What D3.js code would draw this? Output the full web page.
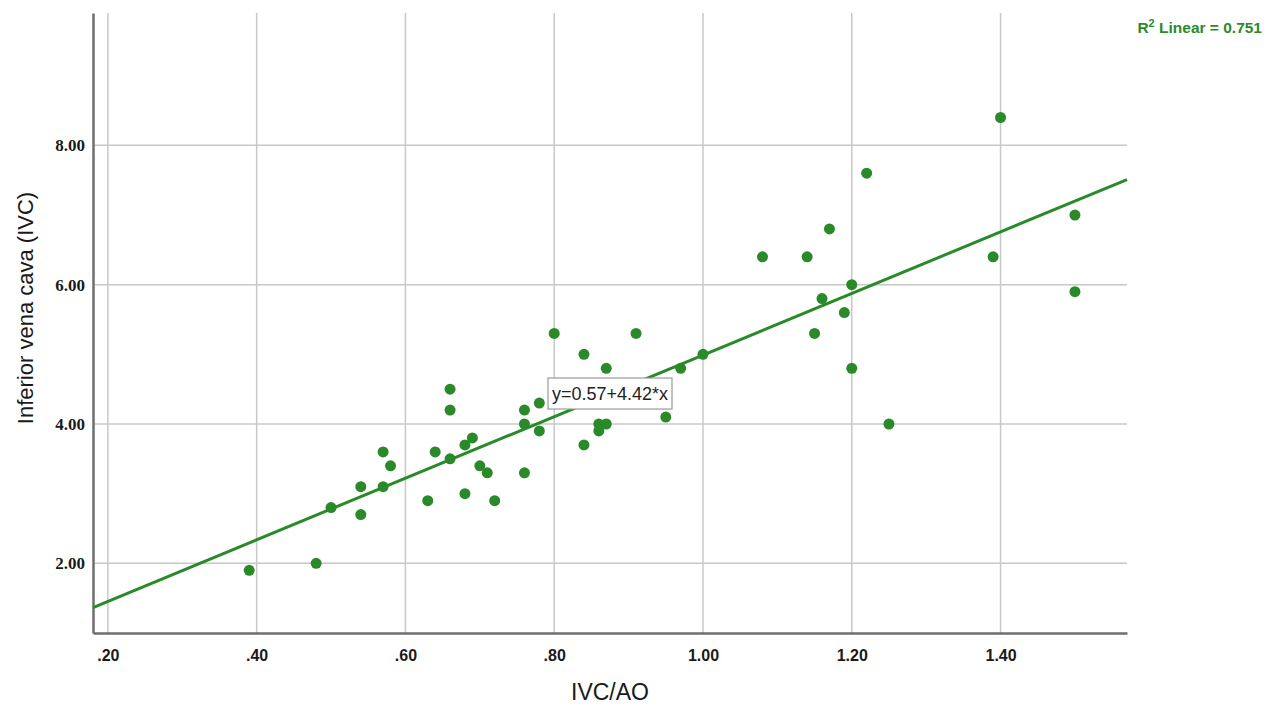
<!DOCTYPE html>
<html>
<head>
<meta charset="utf-8">
<script src="https://cdn.jsdelivr.net/npm/d3@7"></script>
<style>
  body { margin: 0; background: #fff; }
  svg { display: block; font-family: "Liberation Sans", Arial, sans-serif; }
</style>
</head>
<body>
<script>
// IVC vs IVC/AO scatter with linear fit

const ivcAo = [0.39, 0.48, 0.50, 0.54, 0.54, 0.57, 0.57, 0.58, 0.63, 0.64,
               0.66, 0.66, 0.66, 0.68, 0.68, 0.69, 0.70, 0.71, 0.72, 0.76,
               0.76, 0.76, 0.78, 0.78, 0.80, 0.84, 0.84, 0.86, 0.86, 0.87,
               0.87, 0.91, 0.95, 0.97, 1.00, 1.08, 1.14, 1.17, 1.16, 1.15,
               1.19, 1.20, 1.20, 1.22, 1.25, 1.39, 1.40, 1.50, 1.50];
const ivc = [1.9, 2.0, 2.8, 3.1, 2.7, 3.6, 3.1, 3.4, 2.9, 3.6,
             4.5, 4.2, 3.5, 3.7, 3.0, 3.8, 3.4, 3.3, 2.9, 4.2,
             4.0, 3.3, 4.3, 3.9, 5.3, 5.0, 3.7, 4.0, 3.9, 4.8,
             4.0, 5.3, 4.1, 4.8, 5.0, 6.4, 6.4, 6.8, 5.8, 5.3,
             5.6, 6.0, 4.8, 7.6, 4.0, 6.4, 8.4, 7.0, 5.9];

const xTicks = [0.2, 0.4, 0.6, 0.8, 1.0, 1.2, 1.4];
const yTicks = [2, 4, 6, 8];

const fitIntercept = 0.57;
const fitSlope = 4.42;
const rSquared = "0.751";
const eqAt = 0.875;   // where the equation label sits on the line

const width = 1266, height = 706;
const plot = {left: 93, right: 1127, top: 13, bottom: 633};
const green = "#2a8a2a";

const svg = d3.select("body").append("svg")
    .attr("width", width)
    .attr("height", height);

const x = d3.scaleLinear().domain([0.18, 1.57]).range([plot.left, plot.right]);
const y = d3.scaleLinear().domain([1.0, 9.9]).range([plot.bottom, plot.top]);

const fmt = v => d3.format(".2f")(v).replace(/^0\./, ".");

// grid
svg.append("g").selectAll("line")
    .data(xTicks).enter().append("line")
    .attr("x1", d => x(d)).attr("x2", d => x(d))
    .attr("y1", plot.top).attr("y2", plot.bottom)
    .attr("stroke", "#c8c8c8").attr("stroke-width", 1.5);

svg.append("g").selectAll("line")
    .data(yTicks).enter().append("line")
    .attr("x1", plot.left).attr("x2", plot.right)
    .attr("y1", d => y(d)).attr("y2", d => y(d))
    .attr("stroke", "#c8c8c8").attr("stroke-width", 1.5);

// axes
const xAxis = svg.append("g")
    .attr("transform", "translate(0," + plot.bottom + ")")
    .call(d3.axisBottom(x).tickValues(xTicks).tickFormat(fmt).tickSize(0).tickPadding(17));
xAxis.select(".domain").attr("stroke", "#6e6e6e").attr("stroke-width", 2.5);
xAxis.selectAll("text")
    .style("font-family", "'Liberation Sans', Arial, sans-serif")
    .style("font-size", "16px").style("font-weight", "bold").attr("fill", "#1a1a1a");

const yAxis = svg.append("g")
    .attr("transform", "translate(" + plot.left + ",0)")
    .call(d3.axisLeft(y).tickValues(yTicks).tickFormat(fmt).tickSize(0).tickPadding(8));
yAxis.select(".domain").attr("stroke", "#6e6e6e").attr("stroke-width", 2.5);
yAxis.selectAll("text")
    .style("font-family", "'Liberation Serif', 'Times New Roman', serif")
    .style("font-size", "17px").style("font-weight", "bold").attr("fill", "#1a1a1a");

// axis titles
svg.append("text")
    .attr("x", (plot.left + plot.right) / 2)
    .attr("y", 700)
    .attr("text-anchor", "middle")
    .style("font-size", "23px")
    .attr("fill", "#1a1a1a")
    .text("IVC/AO");

svg.append("text")
    .attr("transform", "translate(33,308) rotate(-90)")
    .attr("text-anchor", "middle")
    .style("font-size", "22px")
    .attr("fill", "#1a1a1a")
    .text("Inferior vena cava (IVC)");

// points
const points = ivcAo.map((v, i) => ({x: v, y: ivc[i]}));
svg.append("g").selectAll("circle")
    .data(points).enter().append("circle")
    .attr("cx", d => x(d.x))
    .attr("cy", d => y(d.y))
    .attr("r", 5.5)
    .attr("fill", green);

// fit line
const xd = x.domain();
svg.append("line")
    .attr("x1", x(xd[0])).attr("y1", y(fitIntercept + fitSlope * xd[0]))
    .attr("x2", x(xd[1])).attr("y2", y(fitIntercept + fitSlope * xd[1]))
    .attr("stroke", green).attr("stroke-width", 3);

// equation label
const eq = svg.append("g")
    .attr("transform", "translate(" + x(eqAt) + "," + y(fitIntercept + fitSlope * eqAt) + ")");
eq.append("rect")
    .attr("x", -62).attr("y", -15.5)
    .attr("width", 124).attr("height", 31)
    .attr("fill", "#fff").attr("stroke", "#9a9a9a").attr("stroke-width", 1.2);
eq.append("text")
    .attr("text-anchor", "middle")
    .attr("y", 6.5)
    .style("font-size", "18px")
    .attr("fill", "#222")
    .text("y=" + fitIntercept + "+" + fitSlope + "*x");

// R squared note
const r2 = svg.append("text")
    .attr("x", 1262).attr("y", 33)
    .attr("text-anchor", "end")
    .style("font-size", "15.5px").style("font-weight", "bold")
    .attr("fill", green);
r2.append("tspan").text("R");
r2.append("tspan").attr("dy", -6).style("font-size", "11px").text("2");
r2.append("tspan").attr("dy", 6).text(" Linear = " + rSquared);
</script>
</body>
</html>
